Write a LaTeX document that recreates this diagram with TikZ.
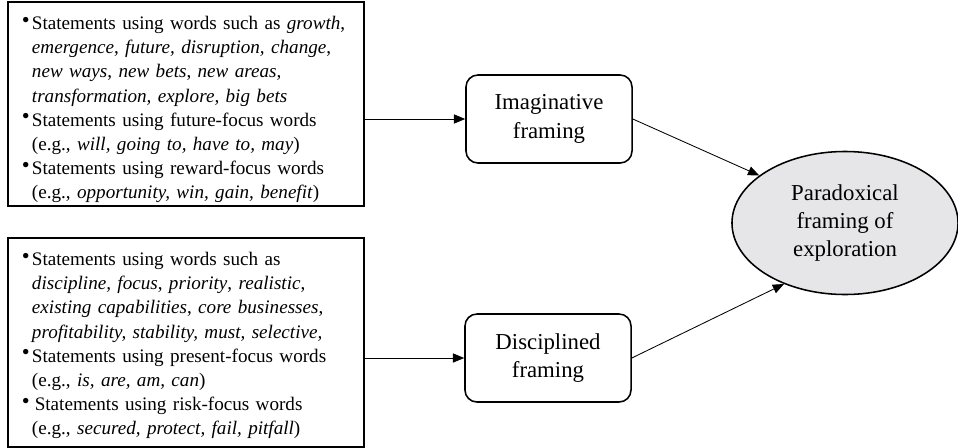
\documentclass[tikz,border=0pt]{standalone}
\usepackage{fontspec}
\setmainfont{Liberation Serif}
\usetikzlibrary{shapes,arrows,calc,arrows.meta}

\definecolor{ellgray}{RGB}{230,230,232}
\newcommand{\bul}{\makebox[7.1pt][l]{\raisebox{1.5pt}{\fontsize{16}{16}\selectfont\textbullet}}}
\newcommand{\ind}{\hspace*{7.1pt}}

\tikzset{
  words/.style={draw, line width=1.1pt, anchor=north west, align=left, text width=8.19cm,
    minimum width=8.9cm, inner xsep=10pt, inner ysep=0pt, text height=20pt,
    font=\fontsize{13.6}{17.1}\selectfont},
  frame/.style={draw, line width=1.1pt, rounded corners=0.3cm, minimum width=4.15cm,
    minimum height=2.2cm, align=center, font=\fontsize{16.2}{20.3}\selectfont},
  outcome/.style={draw, ellipse, fill=ellgray, line width=1.1pt, minimum width=5.65cm,
    minimum height=3.575cm, align=center, font=\fontsize{16.2}{19.6}\selectfont},
  link/.style={-{Triangle[length=8pt,width=6.5pt]}, line width=0.6pt}
}

\begin{document}
\begin{tikzpicture}[x=0.025cm, y=-0.025cm]
            \useasboundingbox (0,0) rectangle (958,447);
            \draw (7,1) node[words, text depth=125.1pt] (imagwords) {%
              \bul Statements using words such as \textit{growth},\\
              \ind\textit{emergence}, \textit{future, disruption, change},\\
              \ind\textit{new ways}, \textit{new bets}, \textit{new areas,}\\
              \ind\textit{transformation, explore, big bets}\\
              \bul Statements using future-focus words\\
              \ind(e.g., \textit{will, going to, have to, may})\\
              \bul Statements using reward-focus words\\
              \ind(e.g., \textit{opportunity, win, gain, benefit})};
            \draw (7,237) node[words, text depth=128.7pt] (discwords) {%
              \bul Statements using words such as\\
              \ind\textit{discipline, focus}, \textit{priority}, \textit{realistic},\\
              \ind\textit{existing capabilities}, \textit{core businesses},\\
              \ind\textit{profitability, stability, must, selective,}\\
              \bul Statements using present-focus words\\
              \ind(e.g., \textit{is, are, am, can})\\
              \bul\hspace{2pt}Statements using risk-focus words\\
              \ind(e.g., \textit{secured, protect, fail, pitfall})};
            \draw (549,119) node[frame] (imag) {Imaginative\\framing};
            \draw (548,358) node[frame] (disc) {Disciplined\\framing};
            \draw (845,223) node[outcome] (para) {Paradoxical\\framing of\\exploration};
            \path[link] (imag.west -| imagwords.east) edge (imag.west)
                        (disc.west -| discwords.east) edge (disc.west)
                        (imag.east) edge (para.151)
                        (disc.east) edge (para.225);
        \end{tikzpicture}
\end{document}
